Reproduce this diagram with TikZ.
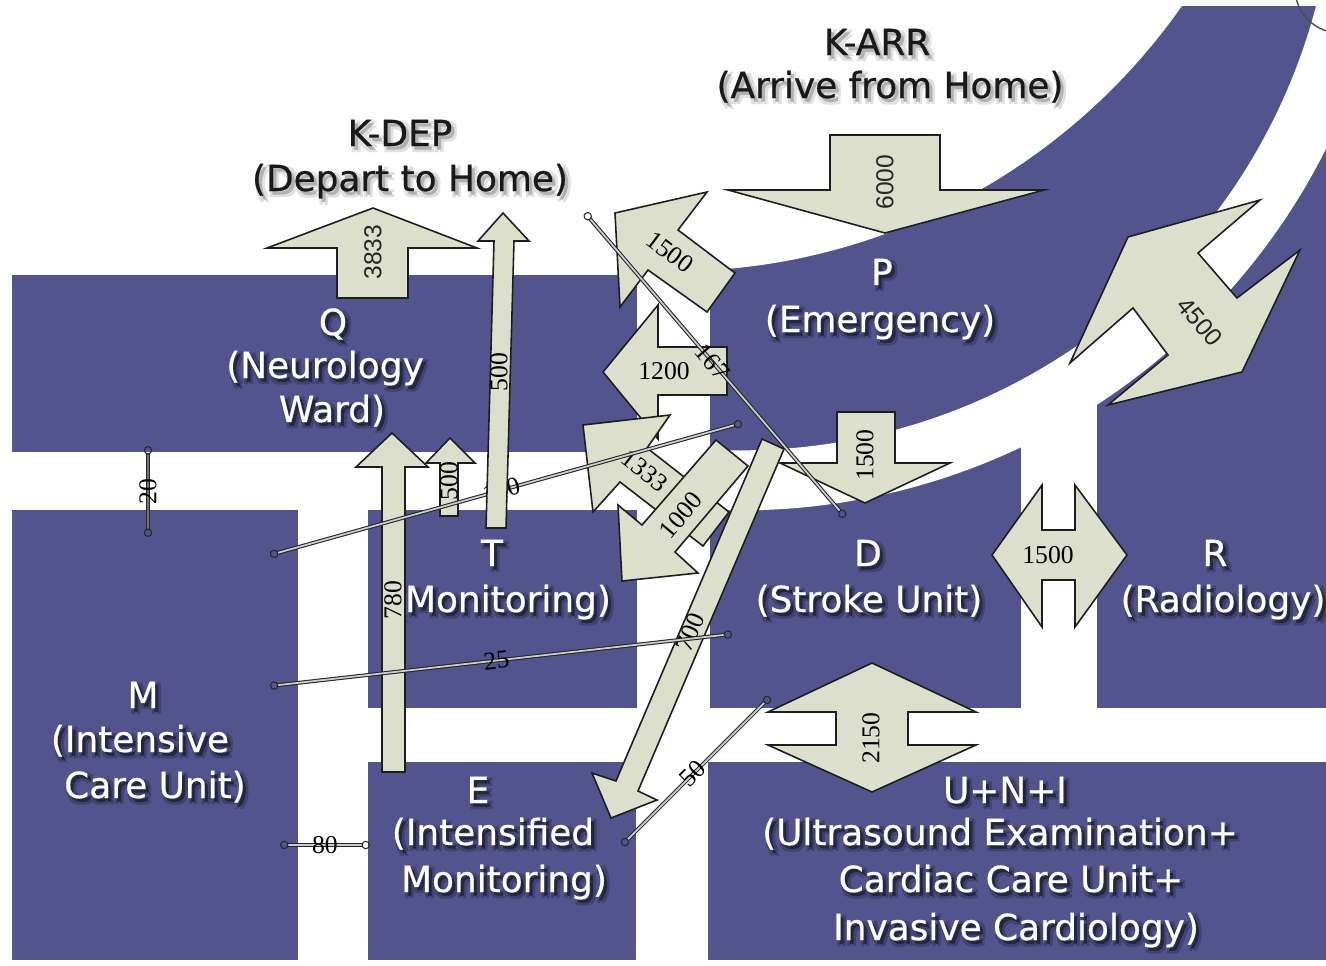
\documentclass[tikz,border=0pt]{standalone}
\usepackage{fontspec}
\setmainfont{Liberation Serif}
\newfontfamily\deptfont[FakeBold=0.6]{DejaVu Sans}
\newfontfamily\numsansfont{Liberation Sans}
\usetikzlibrary{arrows.meta}

\definecolor{wardblue}{RGB}{83,84,142}
\definecolor{flowfill}{RGB}{221,223,205}
\definecolor{arrowline}{RGB}{30,30,30}

\tikzset{
  wardblock/.style={fill=wardblue},
  flowarrow/.style={fill=flowfill, draw=arrowline, line width=0.45pt, line join=miter},
  numlbl/.style={font=\fontsize{7.3}{8}\selectfont, inner sep=0pt, text=black},
  numsans/.style={font=\numsansfont\fontsize{7}{8}\selectfont, inner sep=0pt, text=black!85},
  depttext/.style={font=\deptfont\fontsize{10.2}{12}\selectfont, text=white, anchor=base, inner sep=0pt},
  titletext/.style={depttext, text=black!90},
  distline/.style={draw=black!85, line width=0.3pt, double=black!20, double distance=0.5pt},
  endmark/.style={{Circle[open,length=2.4pt,width=2.4pt,line width=0.3pt]}-{Circle[open,length=2.4pt,width=2.4pt,line width=0.3pt]}},
}

% text with a soft drop shadow: #1 near shadow colour, #2 far shadow colour, #3 text
\newcommand\softshadow[3]{%
  \leavevmode
  \rlap{\kern1.6pt\raisebox{-1.7pt}{\textcolor{#2}{#3}}}%
  \rlap{\kern0.2pt\raisebox{-1.7pt}{\textcolor{#2}{#3}}}%
  \rlap{\kern1.6pt\raisebox{-0.3pt}{\textcolor{#2}{#3}}}%
  \rlap{\kern0.2pt\raisebox{-0.3pt}{\textcolor{#2}{#3}}}%
  \rlap{\kern0.9pt\raisebox{-1.0pt}{\textcolor{#1}{#3}}}%
  #3}
\newcommand\wardname[1]{\softshadow{black!55!wardblue}{black!22!wardblue}{#1}}
\newcommand\homename[1]{\softshadow{black!30}{black!12}{#1}}

\begin{document}
\begin{tikzpicture}[x=0.01cm, y=-0.01cm]
\useasboundingbox (0,0) rectangle (1326,966);
\fill[white] (0,0) rectangle (1326,966);

% ---- wards ----
\fill[wardblock] (12,275) rectangle (637,452);   % Q
\fill[wardblock] (12,510) rectangle (298,960);   % M
\fill[wardblock] (368,510) rectangle (637,708);  % T
\fill[wardblock] (368,762) rectangle (636,960);  % E
\fill[wardblock] (708,762) rectangle (1326,960); % U+N+I
\fill[wardblock] (710,6) rectangle (1326,708);   % P, D, R
\begin{scope}
  \clip (700,0) rectangle (1326,720);
  \fill[white] (672,-351) circle (6.22cm);
  \fill[white, even odd rule] (740,-145) circle (6.55cm) (740,-145) circle (5.95cm);
\end{scope}
\fill[white] (1021,400) rectangle (1097,708);
\begin{scope}
  \clip (0,0) rectangle (1326,966);
  \draw[black!70, line width=0.4pt] (1340,-12) circle (0.45cm);
\end{scope}

% ---- ward names ----
\node[titletext] (tKDEP)  at (400,146) {\homename{K-DEP}};
\node[titletext] (tKDEPb) at (410,191) {\homename{(Depart to Home)}};
\node[titletext] (tKARR)  at (877,55)  {\homename{K-ARR}};
\node[titletext] (tKARRb) at (890,98)  {\homename{(Arrive from Home)}};
\node[depttext] (lQ)  at (333,335) {\wardname{Q}};
\node[depttext] (lQb) at (325,378) {\wardname{(Neurology}};
\node[depttext] (lQc) at (332,422) {\wardname{Ward)}};
\node[depttext] (lP)  at (882,285) {\wardname{P}};
\node[depttext] (lPb) at (880,332) {\wardname{(Emergency)}};
\node[depttext] (lT)  at (492,566) {\wardname{T}};
\node[depttext] (lTb) at (501,612) {\wardname{(Monitoring)}};
\node[depttext] (lD)  at (868,566) {\wardname{D}};
\node[depttext] (lDb) at (869,612) {\wardname{(Stroke Unit)}};
\node[depttext] (lR)  at (1215,566) {\wardname{R}};
\node[depttext] (lRb) at (1223,612) {\wardname{(Radiology)}};
\node[depttext] (lM)  at (143,708) {\wardname{M}};
\node[depttext] (lMb) at (140,752) {\wardname{(Intensive}};
\node[depttext] (lMc) at (155,798) {\wardname{Care Unit)}};
\node[depttext] (lE)  at (478,803) {\wardname{E}};
\node[depttext] (lEb) at (493,845) {\wardname{(Intensified}};
\node[depttext] (lEc) at (504,892) {\wardname{Monitoring)}};
\node[depttext] (lU)  at (1005,803) {\wardname{U+N+I}};
\node[depttext] (lUb) at (1000,845) {\wardname{(Ultrasound Examination+}};
\node[depttext] (lUc) at (1011,892) {\wardname{Cardiac Care Unit+}};
\node[depttext] (lUd) at (1016,940) {\wardname{Invasive Cardiology)}};

% ---- patient flows ----
% Q -> K-DEP
\draw[flowarrow] (337,298) -- (337,248) -- (267,248) -- (373,208) -- (477,248) -- (408,248) -- (408,298) -- cycle;
\node[numsans, rotate=90] (f3833) at (373,252) {3833};
% K-ARR -> P
\draw[flowarrow] (830,135) -- (940,135) -- (940,190) -- (1044,190) -- (885,233) -- (728,190) -- (830,190) -- cycle;
\node[numsans, rotate=90] (f6000) at (885,182) {6000};
% P <-> R
\draw[flowarrow] (1128,237) -- (1260,200) -- (1198,253) -- (1237,298) -- (1300,250) -- (1242,372) -- (1108,405) -- (1168,355) -- (1133,308) -- (1070,363) -- cycle;
\node[numsans, rotate=-50] (f4500) at (1200,322) {4500};
% D <-> R
\draw[flowarrow] (992,555) -- (1042,485) -- (1042,530) -- (1075,530) -- (1075,485) -- (1127,555) -- (1075,627) -- (1075,580) -- (1042,580) -- (1042,627) -- cycle;
\node[numlbl] (fDR) at (1048,555) {1500};
% D <-> U+N+I
\draw[flowarrow] (872,663) -- (976,712) -- (908,712) -- (908,745) -- (976,745) -- (872,792) -- (768,745) -- (836,745) -- (836,712) -- (768,712) -- cycle;
\node[numlbl, rotate=90] (fDU) at (871,738) {2150};
% P -> D
\draw[flowarrow] (837,412) -- (895,412) -- (895,463) -- (950,463) -- (865,503) -- (780,463) -- (837,463) -- cycle;
\node[numlbl, rotate=90] (fPD) at (865,455) {1500};
% P -> T
\draw[flowarrow] (603,372) -- (658,305) -- (658,347) -- (727,347) -- (727,395) -- (658,395) -- (658,439) -- cycle;
\node[numlbl] (fPT) at (664,371) {1200};
% P -> K-DEP
\draw[flowarrow] (615,213) -- (707,192) -- (678,230) -- (735,273) -- (707,312) -- (648,270) -- (620,307) -- cycle;
\node[numlbl, rotate=-37] (fPK) at (670,252) {1500};
% D -> Q
\draw[flowarrow] (583,425) -- (670,415) -- (647,448) -- (729,512) -- (703,546) -- (620,482) -- (593,512) -- cycle;
\node[numlbl, rotate=-38] (fDQ) at (645,471) {1333};
% D -> T
\draw[flowarrow] (716,440) -- (748,466) -- (675,552) -- (698,573) -- (622,581) -- (618,505) -- (642,525) -- cycle;
\node[numlbl, rotate=50] (fDT) at (681,515) {1000};
% D -> E
\draw[flowarrow] (762,439) -- (784,449) -- (638,791) -- (657,800) -- (611,818) -- (592,773) -- (616,781) -- cycle;
\node[numlbl, rotate=67] (fDE) at (690,632) {700};
% E -> Q
\draw[flowarrow] (382,772) -- (382,467) -- (356,467) -- (392,433) -- (428,467) -- (405,467) -- (405,772) -- cycle;
\node[numlbl, rotate=90] (fEQ) at (393,600) {780};
% T -> Q
\draw[flowarrow] (440,516) -- (440,463) -- (426,463) -- (450,438) -- (475,463) -- (458,463) -- (458,516) -- cycle;
\node[numlbl, rotate=90] (fTQ) at (449,481) {500};

% ---- distances ----
\coordinate (a20) at (148,537);  \coordinate (b20) at (148,446);
\coordinate (a110) at (270,555); \coordinate (b110) at (742,423);
\coordinate (a25) at (270,686);  \coordinate (b25) at (732,634);
\coordinate (a80) at (280,845);  \coordinate (b80) at (370,845);
\coordinate (a50) at (622,845);  \coordinate (b50) at (770,697);
\coordinate (a167) at (585,213); \coordinate (b167) at (845,517);

\draw[distline, endmark, double=black!55] (a20) -- node[numlbl, rotate=90] (l20) {20} (b20);
\draw[distline, endmark] (a110) -- node[numlbl, rotate=15.6, pos=0.49] (l110) {110} (b110);
\draw[distline, endmark] (a25) -- node[numlbl, rotate=6.4, pos=0.49] (l25) {25} (b25);
\draw[distline, endmark] (a80) -- node[numlbl] (l80) {80} (b80);
\draw[distline, endmark] (a50) -- node[numlbl, rotate=45, pos=0.48] (l50) {50} (b50);
\draw[distline, endmark] (a167) -- node[numlbl, rotate=-49.5, pos=0.49] (l167) {167} (b167);

% T -> K-DEP
\draw[flowarrow] (486,528) -- (494,241) -- (478,241) -- (503,213) -- (529,241) -- (514,241) -- (506,528) -- cycle;
\node[numlbl, rotate=90] (fTK) at (499,372) {500};
\end{tikzpicture}
\end{document}
